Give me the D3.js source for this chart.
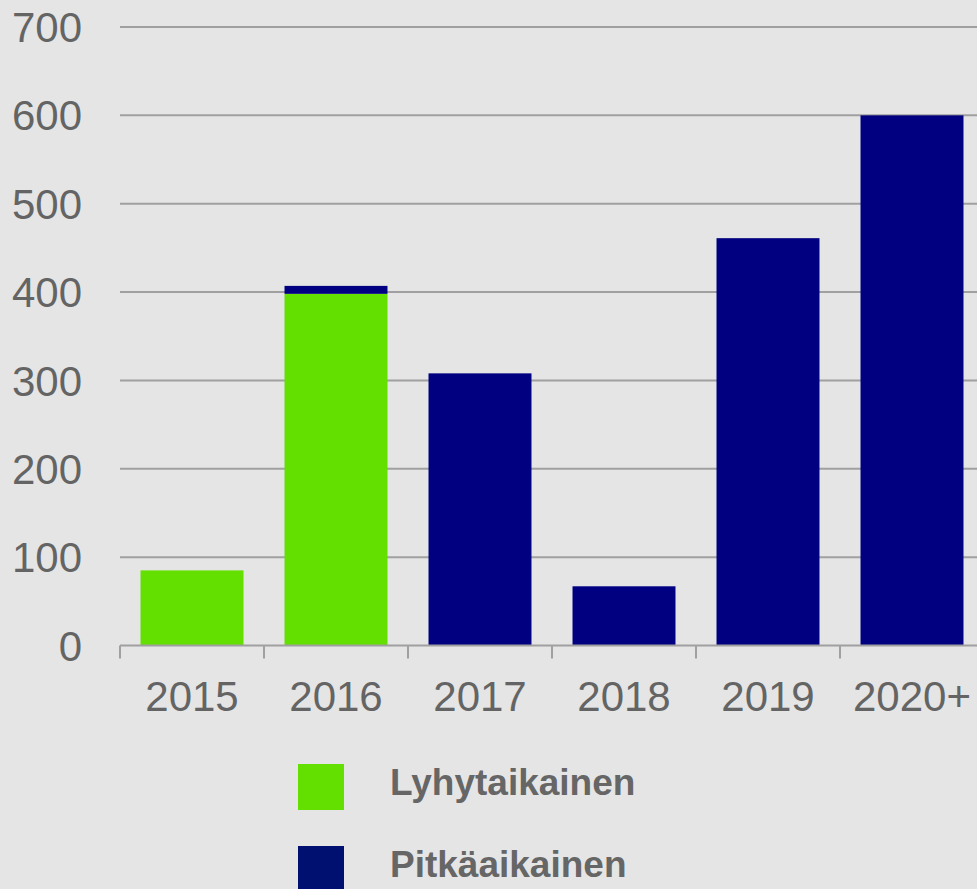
<meta charset="utf-8">
<style>
	body { margin: 0; background: #e5e5e5; }
	svg { display: block; font-family: "Liberation Sans", Arial, sans-serif; }
</style>
<svg width="977" height="889" class="graph"></svg>
<script src="https://cdn.jsdelivr.net/npm/d3@7"></script>
<script>
	// values
	var years = ["2015", "2016", "2017", "2018", "2019", "2020+"];
	var lyhyt = [85, 398, 0, 0, 0, 0];      // Lyhytaikainen
	var pitka = [0, 9, 308, 67, 461, 600];  // Pitkäaikainen
	var yTicks = [0, 100, 200, 300, 400, 500, 600, 700];
	var seriesNames = ["Lyhytaikainen", "Pitkäaikainen"];
	var seriesColors = ["#63df00", "#000080"];
	var legendColors = ["#63df00", "#001070"];

	var svg = d3.select("svg");
	var gridColor = "#a0a0a0";
	var labelColor = "#646464";

	var x = d3.scaleBand().domain(years).range([120, 984]).paddingInner(0.285).paddingOuter(0.1425);
	var y = d3.scaleLinear().domain([0, 700]).range([645.5, 27]);

	// gridlines
	svg.append("g").selectAll("line")
		.data(yTicks.slice(1))
		.enter().append("line")
		.attr("x1", 120).attr("x2", 977)
		.attr("y1", function(d) { return y(d); })
		.attr("y2", function(d) { return y(d); })
		.attr("stroke", gridColor)
		.attr("stroke-width", 2);

	// stacked bars
	var rows = years.map(function(yr, i) { return {year: yr, s0: lyhyt[i], s1: pitka[i]}; });
	var stack = d3.stack().keys(["s0", "s1"])(rows);

	svg.append("g").selectAll("g")
		.data(stack)
		.enter().append("g")
		.attr("fill", function(d, i) { return seriesColors[i]; })
		.selectAll("rect")
		.data(function(d) { return d; })
		.enter().append("rect")
		.attr("x", function(d) { return x(d.data.year); })
		.attr("width", x.bandwidth())
		.attr("y", function(d) { return y(d[1]); })
		.attr("height", function(d) { return y(d[0]) - y(d[1]); });

	// x axis
	var xAxis = svg.append("g").attr("transform", "translate(0,645.5)");
	xAxis.append("line").attr("x1", 120).attr("x2", 977).attr("stroke", gridColor).attr("stroke-width", 2);
	var step = x.step();
	xAxis.selectAll(".tk")
		.data(d3.range(years.length + 1))
		.enter().append("line")
		.attr("class", "tk")
		.attr("x1", function(i) { return 120 + i * step; })
		.attr("x2", function(i) { return 120 + i * step; })
		.attr("y1", 0).attr("y2", 13)
		.attr("stroke", gridColor).attr("stroke-width", 2);
	xAxis.selectAll("text")
		.data(years)
		.enter().append("text")
		.attr("x", function(d) { return x(d) + x.bandwidth() / 2; })
		.attr("y", 65.5)
		.attr("text-anchor", "middle")
		.attr("font-size", 42)
		.attr("fill", labelColor)
		.text(function(d) { return d; });

	// y labels
	svg.append("g").selectAll("text")
		.data(yTicks)
		.enter().append("text")
		.attr("x", 82)
		.attr("y", function(d) { return y(d); })
		.attr("dy", "0.36em")
		.attr("text-anchor", "end")
		.attr("font-size", 42)
		.attr("fill", labelColor)
		.text(function(d) { return d; });

	// legend
	var legend = svg.append("g").selectAll("g")
		.data(seriesNames)
		.enter().append("g")
		.attr("transform", function(d, i) { return "translate(298," + (764 + i * 82) + ")"; });
	legend.append("rect")
		.attr("width", 46).attr("height", 46)
		.attr("fill", function(d, i) { return legendColors[i]; });
	legend.append("text")
		.attr("x", 92).attr("y", 31)
		.attr("font-size", 37)
		.attr("font-weight", "bold")
		.attr("fill", "#666666")
		.text(function(d) { return d; });
</script>
